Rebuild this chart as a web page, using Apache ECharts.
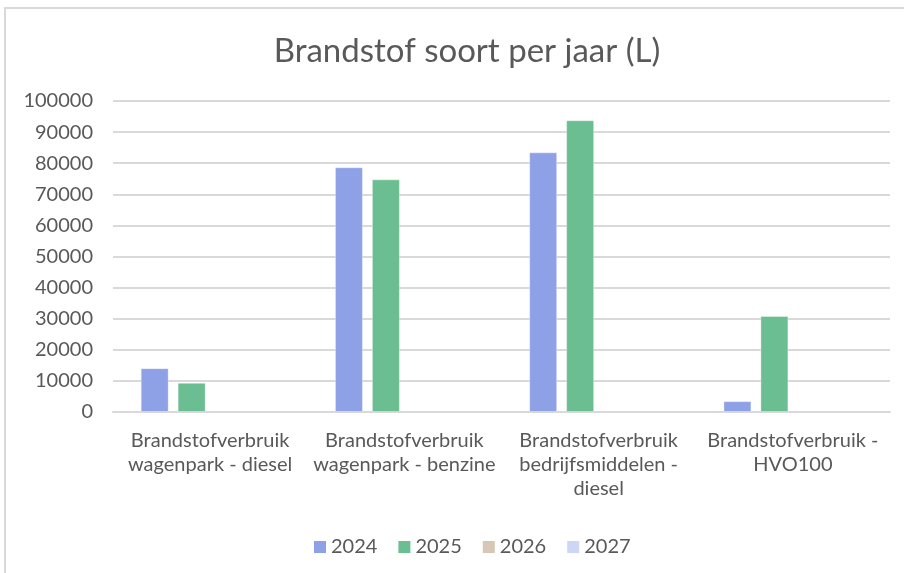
<!DOCTYPE html>
<html lang="nl">
<head>
    <meta charset="UTF-8">
    <title>Brandstof soort per jaar</title>
    <script src="https://cdn.jsdelivr.net/npm/echarts@6/dist/echarts.min.js"></script>
    <style>
        body { margin: 0; background: #fff; }
        #frame { position: absolute; left: 4px; top: 7px; width: 920px; height: 600px;
                 border-top: 2px solid #d9d9d9; border-left: 2px solid #d9d9d9; }
        #chart { position: absolute; left: 0; top: 0; width: 904px; height: 573px; }
    </style>
</head>
<body>
    <div id="frame"></div>
    <div id="chart"></div>

    <script>
        var categories = [
            'Brandstofverbruik\nwagenpark - diesel',
            'Brandstofverbruik\nwagenpark - benzine',
            'Brandstofverbruik\nbedrijfsmiddelen -\ndiesel',
            'Brandstofverbruik -\nHVO100'
        ];
        var years = ['2024', '2025', '2026', '2027'];
        var v2024 = [14100, 78700, 83500, 3500];
        var v2025 = [9400, 74800, 93800, 30900];
        var v2026 = [null, null, null, null];
        var v2027 = [null, null, null, null];
        var colors = ['#8fa1e6', '#6bbe91', '#d6c7b6', '#cdd6f5'];

        var font = 'Lato, "Open Sans", sans-serif';
        var myChart = echarts.init(document.getElementById('chart'));

        var allValues = [v2024, v2025, v2026, v2027];
        var s = [];
        for (var i = 0; i < years.length; i++) {
            s.push({
                name: years[i],
                type: 'bar',
                data: allValues[i],
                barWidth: 28,
                barGap: '32%',
                itemStyle: { color: colors[i], borderColor: 'rgba(255,255,255,0.35)', borderWidth: 1 }
            });
        }

        var option = {
            animation: false,
            color: colors,
            title: {
                text: 'Brandstof soort per jaar (L)',
                left: 462,
                textAlign: 'center',
                top: 30,
                textStyle: { fontFamily: font, fontSize: 33, fontWeight: 'normal', color: '#595959' }
            },
            legend: {
                data: years,
                bottom: 11,
                left: 309,
                icon: 'rect',
                itemWidth: 12,
                itemHeight: 12,
                itemGap: 21,
                itemStyle: { borderWidth: 0 },
                textStyle: { fontFamily: font, fontSize: 20, color: '#595959' }
            },
            grid: { left: 113, right: 14, top: 101, bottom: 161, containLabel: false },
            xAxis: {
                type: 'category',
                data: categories,
                axisTick: { show: false },
                axisLine: { show: true, lineStyle: { color: '#d9d9d9', width: 2 } },
                axisLabel: {
                    fontFamily: font, fontSize: 20, color: '#595959',
                    margin: 17, lineHeight: 24, interval: 0
                }
            },
            yAxis: {
                type: 'value',
                min: 0,
                max: 100000,
                interval: 10000,
                axisLine: { show: false },
                axisTick: { show: false },
                splitLine: { lineStyle: { color: '#d9d9d9', width: 2 } },
                axisLabel: {
                    fontFamily: font, fontSize: 20, color: '#595959', margin: 20,
                    formatter: function (v) { return String(v); }
                }
            },
            series: s
        };
        myChart.setOption(option);
    </script>
</body>
</html>
